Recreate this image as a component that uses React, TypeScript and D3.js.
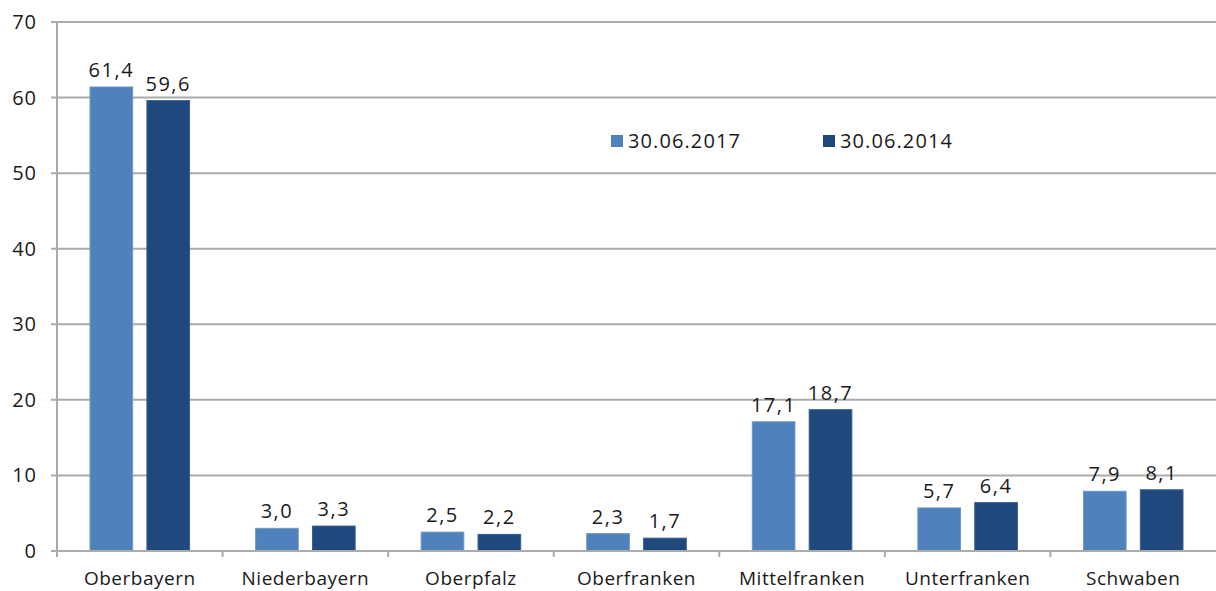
import * as d3 from "d3";

const regions = [
  "Oberbayern",
  "Niederbayern",
  "Oberpfalz",
  "Oberfranken",
  "Mittelfranken",
  "Unterfranken",
  "Schwaben",
];
const seriesNames = ["30.06.2017", "30.06.2014"];
const values2017 = [61.4, 3.0, 2.5, 2.3, 17.1, 5.7, 7.9];
const values2014 = [59.6, 3.3, 2.2, 1.7, 18.7, 6.4, 8.1];
const yTicks = [0, 10, 20, 30, 40, 50, 60, 70];

const colors = ["#4F81BD", "#1F497D"];
const fontFamily = "'Open Sans', Lato, sans-serif";

export default function App() {
  const width = 1216;
  const height = 591;
  const left = 57;
  const right = 1216;
  const top = 22;
  const bottom = 551;

  const x = d3.scaleBand().domain(regions).range([left, right]).paddingInner(0).paddingOuter(0);
  const inner = d3
    .scaleBand()
    .domain(seriesNames)
    .range([33, x.bandwidth() - 33])
    .paddingInner(0.25);
  const y = d3.scaleLinear().domain([0, 70]).range([bottom, top]);

  const series = [values2017, values2014];
  const fmt = (v: number) => v.toFixed(1).replace(".", ",");

  return (
    <svg
      width={width}
      height={height}
      style={{ position: "absolute", left: 0, top: 0, background: "#fff" }}
      fontFamily={fontFamily}
    >
      {/* grid */}
      {yTicks.map((t) => (
        <g key={t}>
          <line x1={left - 6} x2={right} y1={y(t)} y2={y(t)} stroke="#ABABAB" strokeWidth={2} />
          <text x={37} y={y(t)} dy="0.35em" textAnchor="end" fontSize={20} fill="#1a1a1a" letterSpacing={1}>
            {t}
          </text>
        </g>
      ))}
      {/* y axis */}
      <line x1={left} x2={left} y1={top} y2={bottom} stroke="#ABABAB" strokeWidth={2} />
      {/* category ticks */}
      {regions.map((r) => (
        <line
          key={r}
          x1={x(r)!}
          x2={x(r)!}
          y1={bottom}
          y2={bottom + 6}
          stroke="#ABABAB"
          strokeWidth={2}
        />
      ))}
      {/* bars */}
      {regions.map((r, i) => (
        <g key={r} transform={`translate(${x(r)},0)`}>
          {series.map((vals, s) => {
            const bx = inner(seriesNames[s])!;
            const v = vals[i];
            return (
              <g key={s}>
                <rect
                  x={bx}
                  y={y(v)}
                  width={inner.bandwidth()}
                  height={bottom - y(v)}
                  fill={colors[s]}
                  stroke={s === 0 ? "#6E97C9" : "#3A5F8E"}
                  strokeWidth={1}
                />
                <text
                  x={bx + inner.bandwidth() / 2}
                  y={y(v) - 10}
                  textAnchor="middle"
                  fontSize={20}
                  fill="#1a1a1a"
                  letterSpacing={1.5}
                >
                  {fmt(v)}
                </text>
              </g>
            );
          })}
          <text
            x={x.bandwidth() / 2}
            y={585}
            textAnchor="middle"
            fontSize={19}
            fill="#1a1a1a"
            letterSpacing={0.5}
          >
            {r}
          </text>
        </g>
      ))}
      {/* axis baseline */}
      <line x1={left} x2={right} y1={bottom} y2={bottom} stroke="#ABABAB" strokeWidth={2} />
      {/* legend */}
      {seriesNames.map((n, s) => (
        <g key={n} transform={`translate(${611 + s * 212},135)`}>
          <rect x={0} y={0} width={12} height={12} fill={colors[s]} />
          <text x={17} y={6} dy="0.35em" fontSize={20} fill="#1a1a1a" letterSpacing={1.1}>
            {n}
          </text>
        </g>
      ))}
    </svg>
  );
}
